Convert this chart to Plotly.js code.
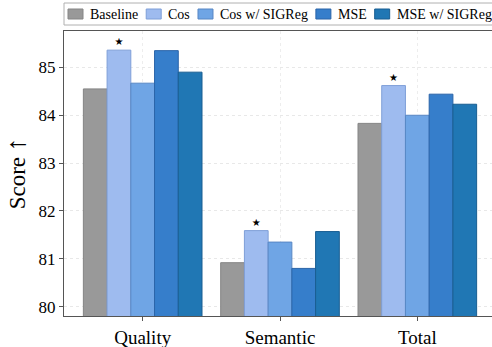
<!DOCTYPE html>
<html>
<head>
<meta charset="utf-8">
<script src="https://cdn.plot.ly/plotly-3.0.1.min.js"></script>
<style>
html, body { margin: 0; padding: 0; overflow: hidden; background: #fff; }
#chart { width: 500px; height: 347px; }
</style>
</head>
<body>
<div id="chart"></div>
<script>
// ---- data ----
const categories = ["Quality", "Semantic", "Total"];
const seriesNames = ["Baseline", "Cos", "Cos w/ SIGReg", "MSE", "MSE w/ SIGReg"];
const baseline = [84.55, 80.92, 83.83];
const cos = [85.36, 81.59, 84.62];
const cosSig = [84.67, 81.35, 84.00];
const mse = [85.35, 80.80, 84.44];
const mseSig = [84.90, 81.57, 84.23];
const bestMarks = ["★", "★", "★"];   // marks above the best (Cos) bars
const yTicks = [80, 81, 82, 83, 84, 85];

// ---- styles ----
const fills = ["#999999", "#9ebbef", "#6fa5e5", "#367ecb", "#2077b4"];
const edges = ["#858585", "#7f9fd8", "#5887c4", "#2a64a8", "#195e92"];
const values = [baseline, cos, cosSig, mse, mseSig];
const FONT = '"Liberation Serif", "Times New Roman", serif';

const W = 500, H = 347;
const M = { l: 64, r: 4, t: 31, b: 31 };
const PW = W - M.l - M.r, PH = H - M.t - M.b;
const px = x => (x - M.l) / PW;
const py = y => (H - M.b - y) / PH;

const traces = seriesNames.map((name, i) => {
  const t = {
    type: "bar",
    name: name,
    x: categories,
    y: values[i],
    marker: { color: fills[i], line: { color: edges[i], width: 1 } },
    showlegend: false,
    hoverinfo: "x+y+name"
  };
  if (i === 1) {
    t.text = bestMarks;
    t.textposition = "outside";
    t.textfont = { size: 10, color: "#000", family: "DejaVu Sans" };
    t.cliponaxis = false;
  }
  return t;
});

// manual legend (boxed, top)
const shapes = [];
const annotations = [];
shapes.push({
  type: "rect", xref: "paper", yref: "paper",
  x0: px(64), x1: px(520), y0: py(25), y1: py(3),
  line: { color: "#b0b0b0", width: 1 }, fillcolor: "#fff", layer: "above"
});
const ctx = document.createElement("canvas").getContext("2d");
ctx.font = '14px ' + FONT;
let cx = 68;
seriesNames.forEach((name, i) => {
  shapes.push({
    type: "rect", xref: "paper", yref: "paper",
    x0: px(cx), x1: px(cx + 15), y0: py(19), y1: py(9),
    fillcolor: fills[i], line: { color: edges[i], width: 1 }, layer: "above"
  });
  const tx = cx + 20;
  annotations.push({
    xref: "paper", yref: "paper", x: px(tx), y: py(14),
    xanchor: "left", yanchor: "middle", showarrow: false,
    text: name, font: { family: FONT, size: 14, color: "#000" }
  });
  cx = tx + ctx.measureText(name).width + 10;
});

const layout = {
  width: W, height: H,
  margin: M,
  paper_bgcolor: "#fff", plot_bgcolor: "#fff",
  barmode: "group", bargap: 0.136, bargroupgap: 0,
  font: { family: FONT, color: "#000" },
  xaxis: {
    range: [-0.573, 2.573],
    showline: true, linecolor: "#555", linewidth: 1, mirror: true,
    ticks: "outside", ticklen: 4, tickcolor: "#555",
    showgrid: true, gridcolor: "#ededed", griddash: "dot",
    tickfont: { family: FONT, size: 19, color: "#000" },
    zeroline: false
  },
  yaxis: {
    range: [79.806, 85.76],
    tickvals: yTicks,
    showline: true, linecolor: "#555", linewidth: 1, mirror: true,
    ticks: "outside", ticklen: 4, tickcolor: "#555",
    showgrid: true, gridcolor: "#e8e8e8", griddash: "dot",
    tickfont: { family: FONT, size: 17, color: "#000" },
    title: { text: "Score <span style='font-size:27px'>↑</span>", font: { family: FONT, size: 23, color: "#000" }, standoff: 6 },
    zeroline: false
  },
  shapes: shapes,
  annotations: annotations
};

Plotly.newPlot("chart", traces, layout, { displayModeBar: false, staticPlot: true });
</script>
</body>
</html>
